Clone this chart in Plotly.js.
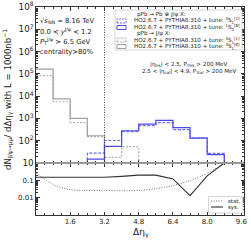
<!DOCTYPE html>
<html><head><meta charset="utf-8">
<script src="https://cdn.plot.ly/plotly-3.0.1.min.js"></script>
<style>html,body{margin:0;padding:0;background:#fff}#plot{width:251px;height:240px}</style>
</head><body><div id="plot"></div>
<script>
// ---- data ----
const binEdges = [0, 0.8, 1.6, 2.4, 3.2, 4.0, 4.8, 5.6, 6.4, 7.2, 8.0, 8.8, 9.6];
const greySolid  = [1.64e5, 7.6e3, 1.0e3, 167, 0, 0, 0, 0, 0, 0, 0, 0];      // pPb -> J/psi X, 3S1[8]
const greyDashed = [8.3e4, 5.6e3, 645, 152, 18, 54, 0, 0, 0, 0, 0, 0];       // pPb -> J/psi X, 3S1[1]
const blueSolid  = [0, 0, 0, 15, 56, 280, 560, 810, 390, 132, 24, 0];         // pPb -> Pb + J/psi X, 1S0[8]
const blueDashed = [0, 0, 0, 28, 102, 258, 480, 650, 317, 135, 27, 0];        // pPb -> Pb + J/psi X, 3S1[1]
const ratioX = [0, 0.8, 1.6, 2.4, 3.2, 4.0, 4.8, 5.6, 6.4, 7.2, 8.0, 8.8];
const statVals = [0.27, 0.057, 0.029, 0.026, 0.026, 0.025, 0.026, 0.033, 0.05, 0.097, 0.25, 1.0];
const sysVals  = [0.15, 0.15, 0.15, 0.15, 0.15, 0.17, 0.2, 0.2, 0.12, 0.013, 0.18, 1.0];
const xTicks = [1.6, 3.2, 4.8, 6.4, 8.0, 9.6];
const xTickText = ["1.6", "3.2", "4.8", "6.4", "8.0", "9.6"];

const FLOOR = 1; // zero bins drawn below the visible log range
function stepY(v){ const y = v.map(a => a > 0 ? a : FLOOR); y.push(y[y.length-1]); return y; }

const F = "DejaVu Sans";
const cBlueS = "#4d4de6", cBlueD = "#6f6ff0", cGreyS = "#a0a0a0", cGreyD = "#b0b0b0";

const traces = [
  {x: binEdges, y: stepY(greyDashed), xaxis:"x2", yaxis:"y", mode:"lines", line:{shape:"hv", color:cGreyD, width:1.2, dash:"2px,1.5px"}},
  {x: binEdges, y: stepY(greySolid), xaxis:"x2", yaxis:"y", mode:"lines", line:{shape:"hv", color:cGreyS, width:1.2}},
  {x: binEdges, y: stepY(blueDashed), xaxis:"x2", yaxis:"y", mode:"lines", line:{shape:"hv", color:cBlueD, width:1.2, dash:"3px,1.5px"}},
  {x: binEdges, y: stepY(blueSolid), xaxis:"x2", yaxis:"y", mode:"lines", line:{shape:"hv", color:cBlueS, width:1.2}},
  {x: ratioX, y: statVals, xaxis:"x", yaxis:"y2", mode:"lines", line:{shape:"spline", smoothing:0.8, color:"#777", width:1, dash:"1px,1.5px"}},
  {x: ratioX, y: sysVals, xaxis:"x", yaxis:"y2", mode:"lines", line:{color:"#333", width:1.1}}
];

const W = 208, H = 208, L = 36, T = 7;
const px = v => (v - L) / W;
const py = v => (T + H - v) / H;

const ann = [];
function txt(x, y, t, size, anchor){ ann.push({xref:"paper", yref:"paper", x:px(x), y:py(y), text:t, showarrow:false, xanchor:anchor||"left", yanchor:"middle", font:{family:F, size:size, color:"#222"}}); }

txt(38, 21.5, "√<i>s</i><sub>NN</sub> = 8.16 TeV", 6.8);
txt(38, 31.5, "0.0 < <i>y</i><sup>J/ψ</sup> < 1.2", 6.8);
txt(38, 41.5, "<i>P</i><sub>T</sub><sup>J/ψ</sup> > 6.5 GeV", 6.8);
txt(38, 51.5, "centrality>80%", 6.8);

// legend
txt(135, 14.5, "pPb → Pb ⊕ J/ψ X:", 5.6);
txt(132, 21, "HO2.6.7 + PYTHIA8.310 + tune: <sup>3</sup>S<sub>1</sub><sup>[1]</sup>", 5.6);
txt(132, 27.5, "HO2.6.7 + PYTHIA8.310 + tune: <sup>1</sup>S<sub>0</sub><sup>[8]</sup>", 5.6);
txt(135, 33.5, "pPb → J/ψ X:", 5.6);
txt(132, 40, "HO2.6.7 + PYTHIA8.310 + tune: <sup>3</sup>S<sub>1</sub><sup>[1]</sup>", 5.6);
txt(132, 46.5, "HO2.6.7 + PYTHIA8.310 + tune: <sup>3</sup>S<sub>1</sub><sup>[8]</sup>", 5.6);

txt(189, 64.5, "|η<sub>trk</sub>| < 2.5, P<sub>Ttrk</sub> > 200 MeV", 5.6, "center");
txt(189, 71, "2.5 < |η<sub>cal</sub>| < 4.9, P<sub>Tcal</sub> > 200 MeV", 5.6, "center");

// ratio legend
txt(226, 201, "stat.", 5.4);
txt(226, 207, "sys.", 5.4);

// axis titles
ann.push({xref:"paper", yref:"paper", x:px(7), y:py(100), text:"dN<sub>J/ψ→μμ</sub>/ dΔη<sub>γ</sub> with L = 1000nb<sup>−1</sup>", textangle:-90, showarrow:false, xanchor:"center", yanchor:"middle", font:{family:F, size:8.6, color:"#222"}});
ann.push({xref:"paper", yref:"paper", x:px(141), y:py(233), text:"Δη<sub>γ</sub>", showarrow:false, xanchor:"center", yanchor:"middle", font:{family:F, size:9, color:"#222"}});

const shapes = [
  {type:"line", xref:"x2", yref:"paper", x0:3.2, x1:3.2, y0:0.25, y1:1, line:{color:"#444", width:1, dash:"1px,1.5px"}},
  {type:"line", xref:"paper", yref:"paper", x0:0, x1:1, y0:0.25, y1:0.25, line:{color:"#999", width:2.2}},
  {type:"rect", xref:"paper", yref:"paper", x0:px(115), x1:px(242), y0:py(50), y1:py(10), line:{color:"#ccc", width:0.8}, fillcolor:"rgba(255,255,255,0.85)"},
  {type:"rect", xref:"paper", yref:"paper", x0:px(117), x1:px(126), y0:py(23), y1:py(19), line:{color:cBlueD, width:1, dash:"2px,1px"}},
  {type:"rect", xref:"paper", yref:"paper", x0:px(117), x1:px(126), y0:py(29.5), y1:py(25.5), line:{color:cBlueS, width:1}},
  {type:"rect", xref:"paper", yref:"paper", x0:px(117), x1:px(126), y0:py(42), y1:py(38), line:{color:cGreyD, width:1, dash:"2px,1px"}},
  {type:"rect", xref:"paper", yref:"paper", x0:px(117), x1:px(126), y0:py(48.5), y1:py(44.5), line:{color:cGreyS, width:1}},
  {type:"rect", xref:"paper", yref:"paper", x0:px(208.5), x1:px(243), y0:py(213), y1:py(196.5), line:{color:"#ccc", width:0.8}, fillcolor:"rgba(255,255,255,0.85)"},
  {type:"line", xref:"paper", yref:"paper", x0:px(211), x1:px(223), y0:py(201), y1:py(201), line:{color:"#777", width:1, dash:"1px,1.5px"}},
  {type:"line", xref:"paper", yref:"paper", x0:px(211), x1:px(223), y0:py(207), y1:py(207), line:{color:"#333", width:1.1}}
];

const axCommon = {showline:true, linecolor:"#333", linewidth:1, ticks:"inside", tickcolor:"#333", mirror:"ticks", zeroline:false, showgrid:false, tickfont:{family:F, size:7, color:"#222"}};

const layout = {
  width:251, height:240, margin:{l:36, r:7, t:7, b:25},
  paper_bgcolor:"#fff", plot_bgcolor:"#fff", showlegend:false,
  xaxis: Object.assign({}, axCommon, {anchor:"y2", domain:[0,1], range:[0,9.72], tickvals:xTicks, ticktext:xTickText, ticklen:3.5, minor:{ticks:"inside", ticklen:2, dtick:0.4, tickcolor:"#333"}}),
  xaxis2: Object.assign({}, axCommon, {anchor:"y", matches:"x", domain:[0,1], range:[0,9.72], tickvals:xTicks, showticklabels:false, ticklen:3.5, minor:{ticks:"inside", ticklen:2, dtick:0.4, tickcolor:"#333"}}),
  yaxis: Object.assign({}, axCommon, {anchor:"x2", domain:[0.25,1], type:"log", range:[1,8], dtick:1, exponentformat:"power", ticklen:3.5, minor:{ticks:"inside", ticklen:1.8, dtick:"D1", tickcolor:"#333"}}),
  yaxis2: Object.assign({}, axCommon, {anchor:"x", domain:[0,0.25], type:"log", range:[-3,0], tickvals:[0.1, 0.01], exponentformat:"power", ticklen:3.5, minor:{ticks:"inside", ticklen:1.8, dtick:"D1", tickcolor:"#333"}}),
  annotations: ann, shapes: shapes
};

Plotly.newPlot("plot", traces, layout, {staticPlot:true, displayModeBar:false});
</script></body></html>
